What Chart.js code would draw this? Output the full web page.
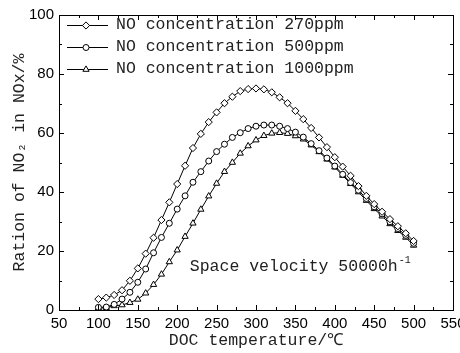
<!DOCTYPE html>
<html>
<head>
<meta charset="utf-8">
<script src="https://cdn.jsdelivr.net/npm/chart.js@4.4.1/dist/chart.umd.min.js"></script>
<style>
html, body { margin: 0; padding: 0; background: #fff; }
canvas { display: block; }
</style>
</head>
<body>
<canvas id="myChart" width="460" height="353"></canvas>
<script>
// DOC outlet temperature (degC), one reading every 10 degrees
const temperatures = [100, 110, 120, 130, 140, 150, 160, 170, 180, 190, 200, 210, 220, 230, 240, 250, 260, 270, 280, 290, 300,
    310, 320, 330, 340, 350, 360, 370, 380, 390, 400, 410, 420, 430, 440, 450, 460, 470, 480, 490, 500];

// NO2 share of NOx (%) for each inlet NO concentration
const ratio270 = [3.7, 4.2, 5.1, 6.7, 9.9, 14.1, 19.1, 24.5, 30.5, 36.5, 42.7, 48.9, 54.9, 59.7, 63.7, 67.0, 70.1, 72.3, 74.2, 74.9, 75.1,
    74.8, 73.8, 72.1, 70.1, 67.5, 64.7, 61.7, 58.5, 55.2, 51.8, 48.6, 45.5, 42.0, 38.7, 35.9, 33.3, 30.8, 28.4, 26.0, 23.4];
const ratio500 = [0.9, 1.0, 1.9, 3.7, 6.0, 9.4, 13.9, 19.4, 24.6, 29.4, 34.2, 38.7, 43.3, 46.9, 50.5, 53.7, 56.2, 58.5, 60.1, 61.5, 62.3,
    62.7, 62.7, 62.3, 61.5, 60.3, 58.6, 56.4, 54.0, 51.5, 48.8, 46.0, 43.2, 40.6, 37.8, 35.0, 32.6, 29.9, 27.6, 25.3, 22.6];
const ratio1000 = [0.6, 0.8, 1.4, 1.7, 2.5, 3.6, 5.7, 8.6, 12.1, 16.3, 20.3, 24.9, 29.4, 34.1, 38.6, 42.9, 46.9, 50.0, 53.1, 55.6, 57.6,
    59.1, 59.9, 60.1, 59.8, 59.0, 57.9, 55.9, 53.6, 51.1, 48.4, 45.6, 42.8, 40.0, 37.1, 34.3, 31.8, 29.2, 26.9, 24.6, 21.9];

const seriesLabels = ['NO concentration 270ppm', 'NO concentration 500ppm', 'NO concentration 1000ppm'];
const seriesMarkers = ['rectRot', 'circle', 'triangle'];

const xMin = 50, xMax = 550, xStep = 50;
const yMin = 0, yMax = 100, yStep = 20;

const note = 'Space velocity 50000h';
const noteSup = '-1';
const notePos = { x: 216, y: 14.6 };

const monoFont = "'Liberation Mono', 'DejaVu Sans Mono', monospace";
const numFont = "'Liberation Sans', Arial, sans-serif";
const textColor = '#222';

function toPoints(values) {
    return temperatures.map((t, i) => ({ x: t, y: values[i] }));
}

const dataSource = {
    datasets: [ratio270, ratio500, ratio1000].map((values, i) => ({
        label: seriesLabels[i],
        data: toPoints(values),
        borderColor: '#000',
        borderWidth: 1,
        backgroundColor: '#fff',
        pointStyle: seriesMarkers[i],
        pointRadius: i === 1 ? 3 : 3.6,
        pointBorderWidth: 1,
        pointBorderColor: '#000',
        pointBackgroundColor: '#fff',
        tension: 0
    }))
};

// box around the plot with inward major and minor ticks
const frameTicks = {
    id: 'frameTicks',
    afterDatasetsDraw(chart) {
        const { ctx, chartArea: a, scales: { x, y } } = chart;
        ctx.save();
        ctx.strokeStyle = '#000';
        ctx.lineWidth = 1;
        ctx.strokeRect(Math.round(a.left) + 0.5, Math.round(a.top) + 0.5,
            Math.round(a.right - a.left), Math.round(a.bottom - a.top));
        ctx.beginPath();
        for (let v = xMin; v <= xMax; v += xStep / 2) {
            const px = Math.round(x.getPixelForValue(v)) + 0.5;
            const len = v % xStep === 0 ? 5 : 3;
            ctx.moveTo(px, a.bottom); ctx.lineTo(px, a.bottom - len);
            ctx.moveTo(px, a.top); ctx.lineTo(px, a.top + len);
        }
        for (let v = yMin; v <= yMax; v += yStep / 2) {
            const py = Math.round(y.getPixelForValue(v)) + 0.5;
            const len = v % yStep === 0 ? 5 : 3;
            ctx.moveTo(a.left, py); ctx.lineTo(a.left + len, py);
            ctx.moveTo(a.right, py); ctx.lineTo(a.right - len, py);
        }
        ctx.stroke();
        ctx.restore();
    }
};

// legend with line + marker samples, and the space velocity note
const sampleLegend = {
    id: 'sampleLegend',
    afterDraw(chart) {
        const { ctx, chartArea: a, scales: { x, y } } = chart;
        ctx.save();
        ctx.font = '16.5px ' + monoFont;
        ctx.textBaseline = 'middle';
        chart.data.datasets.forEach((ds, i) => {
            const rowY = a.top + 10 + i * 22;
            ctx.strokeStyle = '#000';
            ctx.lineWidth = 1;
            ctx.beginPath();
            ctx.moveTo(a.left + 8, rowY + 0.5);
            ctx.lineTo(a.left + 49, rowY + 0.5);
            ctx.stroke();
            ctx.fillStyle = '#fff';
            Chart.helpers.drawPoint(ctx, {
                pointStyle: ds.pointStyle, radius: ds.pointRadius, rotation: 0, borderWidth: 1
            }, a.left + 27, rowY + 0.5);
            ctx.fillStyle = textColor;
            ctx.fillText(ds.label, a.left + 57, rowY);
        });

        const nx = x.getPixelForValue(notePos.x);
        const ny = y.getPixelForValue(notePos.y);
        ctx.fillText(note, nx, ny);
        const w = ctx.measureText(note).width;
        ctx.font = '10px ' + monoFont;
        ctx.fillText(noteSup, nx + w + 1, ny - 7);
        ctx.restore();
    }
};

new Chart(document.getElementById('myChart').getContext('2d'), {
    type: 'line',
    data: dataSource,
    options: {
        responsive: false,
        animation: false,
        events: [],
        layout: { padding: { top: 15, right: 7, left: 0, bottom: 0 } },
        plugins: {
            legend: { display: false },
            tooltip: { enabled: false }
        },
        scales: {
            x: {
                type: 'linear',
                min: xMin,
                max: xMax,
                grid: { display: false, drawTicks: false },
                border: { display: false },
                ticks: {
                    stepSize: xStep,
                    autoSkip: false,
                    maxRotation: 0,
                    padding: 5,
                    color: '#000',
                    font: { family: numFont, size: 15 }
                },
                title: {
                    display: true,
                    text: 'DOC temperature/℃',
                    color: textColor,
                    font: { family: monoFont, size: 16.5 },
                    padding: { top: 0, bottom: 2 }
                },
                afterFit(s) {
                    s.height = 43;
                    s.paddingLeft = 0;
                    s.paddingRight = 0;
                }
            },
            y: {
                min: yMin,
                max: yMax,
                grid: { display: false, drawTicks: false },
                border: { display: false },
                ticks: {
                    stepSize: yStep,
                    padding: 5,
                    color: '#000',
                    font: { family: numFont, size: 15 }
                },
                title: {
                    display: true,
                    text: 'Ration of NO₂ in NOx/%',
                    color: textColor,
                    font: { family: monoFont, size: 16.5 },
                    padding: { top: 10, bottom: 0 }
                },
                afterFit(s) {
                    s.width = 59;
                    s.paddingTop = 0;
                    s.paddingBottom = 0;
                }
            }
        }
    },
    plugins: [frameTicks, sampleLegend]
});
</script>
</body>
</html>
